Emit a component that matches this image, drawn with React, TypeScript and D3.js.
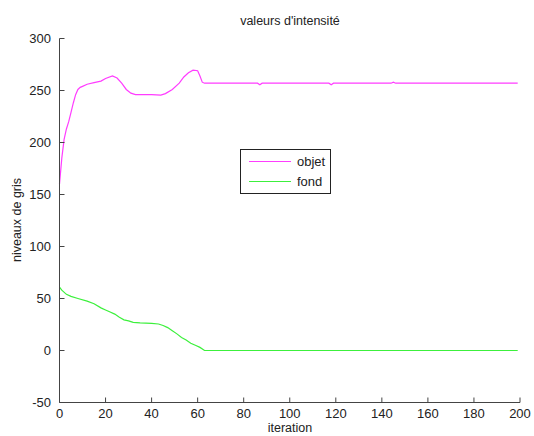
import React from "react";
import * as d3 from "d3";

const objetIter = [0, 1, 2, 3, 4, 5, 6, 7, 8, 9, 10, 12, 15, 18, 20, 23, 25, 27, 29, 31, 33, 40, 44, 46, 49, 52, 54, 56, 58, 60, 61, 62, 63, 86, 87, 88, 117, 118, 119, 144, 145, 146, 199];
const objetVal = [160, 185, 203, 213, 220, 229, 238, 246, 251, 253, 254, 256, 257.5, 259, 261.5, 264, 262, 257, 251, 247.5, 246, 246, 245.5, 247, 251, 257, 263, 267, 269.5, 269, 264, 258, 257, 257, 255.5, 257, 257, 255.5, 257, 257, 258, 257, 257];

const fondIter = [0, 1, 3, 5, 8, 12, 15, 18, 20, 22, 24, 26, 28, 30, 32, 35, 40, 43, 45, 47, 49, 51, 53, 55, 57, 59, 61, 63, 199];
const fondVal = [61, 58, 54, 52, 50, 47.5, 45, 41, 39, 37, 35, 32, 29.5, 28.5, 27, 26.5, 26, 25.5, 24, 22, 19, 16, 12.5, 10, 7, 5, 3, 0, 0];

const xTicks = [0, 20, 40, 60, 80, 100, 120, 140, 160, 180, 200];
const yTicks = [-50, 0, 50, 100, 150, 200, 250, 300];

const seriesNames = ["objet", "fond"];
const seriesColors = ["#ff3cff", "#3cf03c"];

export default function App() {
  const W = 534, H = 436;
  const x = d3.scaleLinear().domain([0, 200]).range([59.5, 520]);
  const y = d3.scaleLinear().domain([-50, 300]).range([402.5, 38.5]);
  const line = d3.line<[number, number]>().x(d => x(d[0])).y(d => y(d[1]));
  const objetPts = objetIter.map((t, i) => [t, objetVal[i]] as [number, number]);
  const fondPts = fondIter.map((t, i) => [t, fondVal[i]] as [number, number]);
  const font = "Liberation Sans, Arial, sans-serif";
  const axisColor = "#444";
  const textColor = "#222";
  return (
    <svg width={W} height={H} style={{ position: "absolute", left: 0, top: 0, background: "#fff" }} fontFamily={font}>
      <rect x={0} y={0} width={W} height={H} fill="#fff" />
      <text x={290} y={25} textAnchor="middle" fontSize={12.5} fill={textColor}>valeurs d'intensité</text>
      <path d={line(objetPts) || ""} fill="none" stroke={seriesColors[0]} strokeWidth={1.2} />
      <path d={line(fondPts) || ""} fill="none" stroke={seriesColors[1]} strokeWidth={1.2} />
      <line x1={x(0)} x2={x(0)} y1={y(300)} y2={y(-50)} stroke={axisColor} strokeWidth={1} />
      <line x1={x(0)} x2={x(200)} y1={y(-50)} y2={y(-50)} stroke={axisColor} strokeWidth={1} />
      {yTicks.map(v => (
        <g key={"y" + v}>
          <line x1={x(0)} x2={x(0) + 5} y1={y(v)} y2={y(v)} stroke={axisColor} />
          <text x={51} y={y(v) + 4.5} textAnchor="end" fontSize={13} fill={textColor}>{v}</text>
        </g>
      ))}
      {xTicks.map(v => (
        <g key={"x" + v}>
          <line x1={x(v)} x2={x(v)} y1={y(-50)} y2={y(-50) - 5} stroke={axisColor} />
          <text x={x(v)} y={y(-50) + 15} textAnchor="middle" fontSize={13} fill={textColor}>{v}</text>
        </g>
      ))}
      <text x={290} y={432} textAnchor="middle" fontSize={12.5} fill={textColor}>iteration</text>
      <text transform={`translate(21,220) rotate(-90)`} textAnchor="middle" fontSize={12.5} fill={textColor}>niveaux de gris</text>
      <rect x={240.5} y={149.5} width={90} height={44} fill="#fff" stroke="#222" strokeWidth={1} />
      {seriesNames.map((n, i) => (
        <g key={n}>
          <line x1={249} x2={291} y1={161.5 + i * 20} y2={161.5 + i * 20} stroke={seriesColors[i]} strokeWidth={1.2} />
          <text x={297} y={166 + i * 20} fontSize={13} fill={textColor}>{n}</text>
        </g>
      ))}
    </svg>
  );
}
